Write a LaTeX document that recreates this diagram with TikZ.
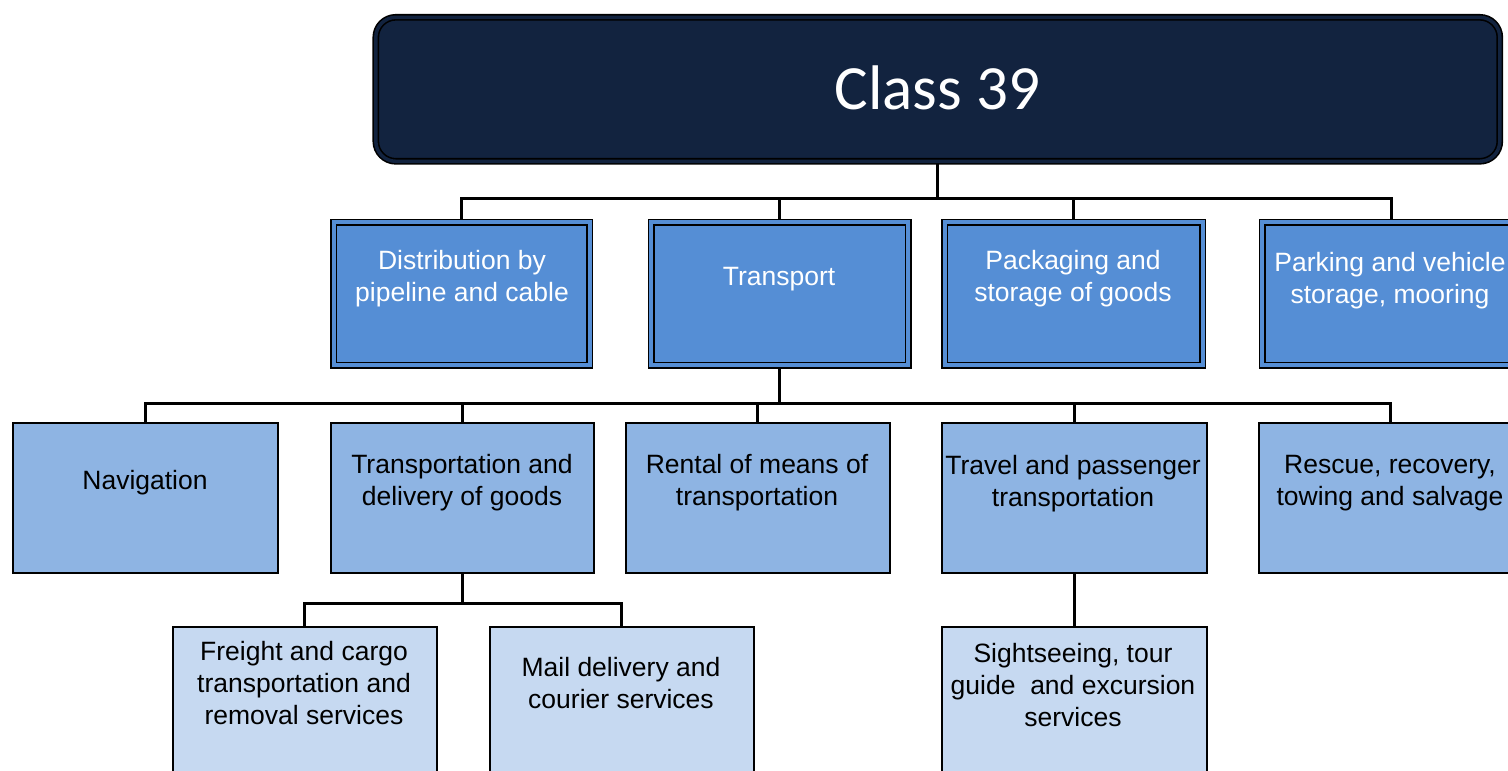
\documentclass[tikz,border=0pt]{standalone}
\usepackage{fontspec}
\usetikzlibrary{backgrounds}
\setmainfont{Liberation Sans}
\newfontfamily\titlefont{Carlito}
\definecolor{navyfill}{HTML}{12233F}
\definecolor{lvtwo}{HTML}{558ED5}
\definecolor{lvthree}{HTML}{8EB4E3}
\definecolor{lvfour}{HTML}{C6D9F1}
\begin{document}
\begin{tikzpicture}[x=1pt,y=-1pt,
  conn/.style={draw=black,line width=3pt,line join=miter},
  topbox/.style={draw=black,double=navyfill,double distance=3.5pt,line width=1.6pt,fill=navyfill,rounded corners=20pt,anchor=north west,inner sep=0pt,minimum height=144pt},
  boxtwo/.style={draw=black,double=lvtwo,double distance=4pt,line width=1.5pt,fill=lvtwo,anchor=north west,inner sep=0pt,minimum height=143pt},
  boxthree/.style={draw=black,line width=1.5pt,fill=lvthree,anchor=north west,inner sep=0pt,minimum height=150pt},
  boxfour/.style={draw=black,line width=1.5pt,fill=lvfour,anchor=north west,inner sep=0pt,minimum height=160pt},
  txt/.style={align=center,inner sep=0pt,font=\fontsize{26.5}{32}\selectfont},
  txtw/.style={txt,text=white},
  txtb/.style={txt,text=black}]
\useasboundingbox (0,0) rectangle (1508,771);
\clip (0,0) rectangle (1508,771);
% boxes
\node[topbox,minimum width=1124pt] (top) at (375,16.5) {};
\node[boxtwo,minimum width=256pt] (dist) at (333,221.5) {};
\node[boxtwo,minimum width=257pt] (trans) at (650.5,221.5) {};
\node[boxtwo,minimum width=258pt] (pack) at (944,221.5) {};
\node[boxtwo,minimum width=258pt] (park) at (1261.5,221.5) {};
\node[boxthree,minimum width=265pt] (nav) at (12,422) {};
\node[boxthree,minimum width=263pt] (deliv) at (330,422) {};
\node[boxthree,minimum width=264pt] (rent) at (625,422) {};
\node[boxthree,minimum width=265pt] (travel) at (941,422) {};
\node[boxthree,minimum width=264pt] (rescue) at (1258,422) {};
\node[boxfour,minimum width=264pt] (freight) at (172,626) {};
\node[boxfour,minimum width=264pt] (mail) at (489,626) {};
\node[boxfour,minimum width=265pt] (sight) at (941,626) {};
% bus coordinates
\coordinate (busa) at ([yshift=-36pt]top.south);
\coordinate (busb) at ([yshift=-37pt]trans.south);
\coordinate (busc) at ([yshift=-30pt]deliv.south);
% connectors
\begin{scope}[on background layer]
\draw[conn] (top.south) -- (busa);
\foreach \n in {dist,trans,pack,park} \draw[conn] (\n.north) |- (busa);
\draw[conn] (trans.south) -- (busb);
\foreach \n in {nav,deliv,rent,travel,rescue} \draw[conn] (\n.north) |- (busb);
\draw[conn] (deliv.south) -- (busc);
\foreach \n in {freight,mail} \draw[conn] (\n.north) |- (busc);
\draw[conn] (travel.south) -- (sight.north);
\end{scope}
% texts
\node[text=white,inner sep=0pt,font=\titlefont\fontsize{63}{70}\selectfont] (top-t) at (937.5,88) {Class 39};
\node[txtw] (dist-t) at (462,279) {Distribution by\\pipeline and cable};
\node[txtw] (trans-t) at (779,279) {Transport};
\node[txtw] (pack-t) at (1073,279) {Packaging and\\storage of goods};
\node[txtw] (park-t) at (1390,281) {Parking and vehicle\\storage, mooring};
\node[txtb] (nav-t) at (145,483) {Navigation};
\node[txtb] (deliv-t) at (462,483) {Transportation and\\delivery of goods};
\node[txtb] (rent-t) at (757,483) {Rental of means of\\transportation};
\node[txtb] (travel-t) at (1073,484) {Travel and passenger\\transportation};
\node[txtb] (rescue-t) at (1390,483) {Rescue, recovery,\\towing and salvage};
\node[txtb] (freight-t) at (304,683) {Freight and cargo\\transportation and\\removal services};
\node[txtb] (mail-t) at (621,683) {Mail delivery and\\courier services};
\node[txtb] (sight-t) at (1073,685) {Sightseeing, tour\\guide~ and excursion\\services};
\end{tikzpicture}
\end{document}
